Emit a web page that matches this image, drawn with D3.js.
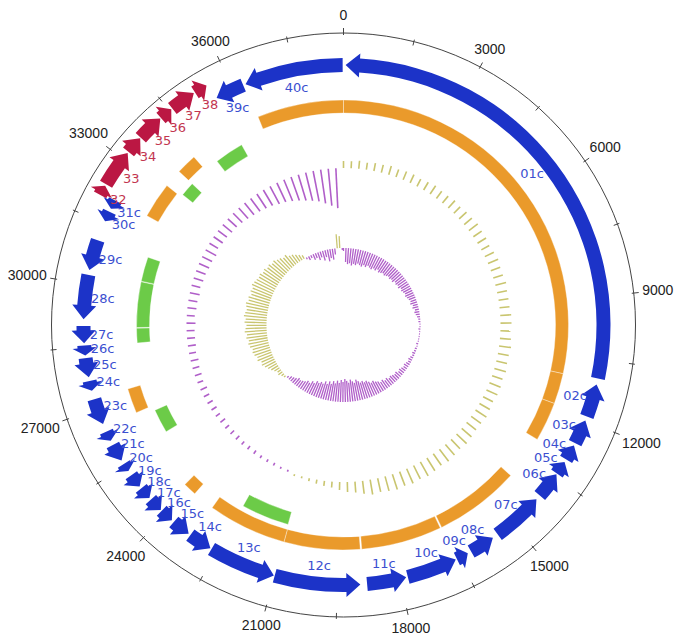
<!DOCTYPE html>
<html><head><meta charset="utf-8">
<script src="https://cdn.jsdelivr.net/npm/d3@7"></script>
<style>html,body{margin:0;padding:0;background:#fff}</style>
</head><body>
<svg id="chart" width="679" height="642"></svg>
<script>
// ---------------- DATA ----------------
const genomeLength = 38700;
const majorTicks = [0,3000,6000,9000,12000,15000,18000,21000,24000,27000,30000,33000,36000];
const minorTicks = [1500,4500,7500,10500,13500,16500,19500,22500,25500,28500,31500,34500,37500];

const geneNames   = ["01c","02c","03c","04c","05c","06c","07c","08c","09c","10c","11c","12c","13c","14c","15c","16c","17c","18c","19c","20c","21c","22c","23c","24c","25c","26c","27c","28c","29c","30c","31c","32","33","34","35","36","37","38","39c","40c"];
const geneStarts  = [50,11100,11990,12640,13090,13440,14200,15580,16280,16600,17850,18950,21020,22660,23280,23790,24150,24540,24900,25350,25650,26180,26620,27450,27780,28300,28590,29160,30340,31550,31880,32050,32320,33200,33620,34250,34580,35200,35560,36320];
const geneEnds    = [10950,11890,12580,13020,13420,14080,15440,16190,16570,17810,18790,21000,22630,23230,23730,24120,24490,24840,25230,25550,26070,26420,27240,27690,28240,28540,29000,30220,31070,31800,32100,32280,33170,33600,34230,34550,35170,35500,36260,38680];
const geneStrands = [-1,-1,-1,-1,-1,-1,-1,-1,-1,-1,-1,-1,-1,-1,-1,-1,-1,-1,-1,-1,-1,-1,-1,-1,-1,-1,-1,-1,-1,-1,-1,1,1,1,1,1,1,1,-1,-1];

const orangeStarts = [36300,0,11020,11870,14190,16610,18890,21000,23800,26560,32150,33650];
const orangeEnds   = [38700,11020,11870,12960,16570,18850,21000,23190,24170,27250,33140,34220];

const greenStarts = [21020,25690,28490,28950,30340,33220,34650];
const greenEnds   = [22470,26410,28930,30320,31080,33650,35530];

const gcStep = 300;
const gcContent = [
  7,7,8,7,8,
  8,9,8,9,9,8,9,10,9,9,
  10,9,10,10,11,10,10,9,10,11,10,10,11,10,10,
  10,11,11,10,11,12,11,11,12,11,12,12,11,12,13,12,12,
  13,14,13,14,15,14,15,16,15,16,15,16,15,14,15,
  13,11,10,8,6,
  5,4,3,2,2,
  -2,-2,-3,-3,-3,-4,-4,-4,-5,
  -5,-5,-6,-5,-6,-6,-6,-7,-6,
  -7,-7,-8,-7,-8,-8,-8,
  -9,-8,-9,-9,-10,-9,-10,-10,-11,-11,-12,
  -10,-11,-11,-12,-12,-13,-14,
  -15,-16,-17,-18,-20,-21,-23,
  -25,-27,-29,-31,-34,-37,-40
];

const skewStep = 200;
const gcSkew = [
  -3,
  -14,-16,-15,-17,-15,-16,-14,-15,-16,-14,
  -15,-13,-14,-15,-13,-14,-12,-14,-13,-12,-13,-12,-11,-12,
  -11,-12,-10,-11,-10,-11,-9,-10,-9,-8,-9,-8,-7,
  -6,-7,-5,-6,-4,-5,-4,-3,
  -2,-2,-1,-1,-2,-1,-1,-1,-1,-1,-2,-1,-2,-2,
  -3,-2,-3,-4,-3,-4,-5,-4,
  -5,-6,-5,-7,-6,-7,-8,-7,-9,-8,-10,-9,-11,
  -12,-14,-13,-15,-17,-16,-18,-17,-19,-21,-18,-20,-22,-19,-21,-23,
  -20,-22,-19,-21,-18,-20,-17,-19,-16,-18,-15,-16,-14,-15,-12,-13,
  -10,-11,-9,-8,-7,-8,-6,-5,-4,-2,
  2,3,5,4,6,8,
  10,12,14,13,16,15,17,18,17,19,20,
  19,21,20,22,21,20,22,21,23,22,21,
  22,23,21,22,20,22,21,23,22,21,20,
  21,19,20,18,19,17,18,16,
  15,13,14,11,10,8,6,4,
  -2,-4,-3,-6,-5,-8,-6,-10,-7,-12,-9,-11,-6,
  14,12,
  -2
];

// ---------------- LAYOUT ----------------
const cx = 343.5, cy = 325;
const axisR = 292;
const revLane = 260, fwdLane = 276;
const bodyHalf = 7, headHalf = 12, headLen = 14;
const orangeR = [212, 225];
const greenR = [194, 207];
const gcBase = 157, skewBase = 77;

const C = {
  blue: "#1c33c8", red: "#bb1743",
  blueText: "#3b4fd0", redText: "#c2354f",
  orange: "#ea9a2b", green: "#6ccb48",
  purple: "#b05fc9", olive: "#c9c56f"
};

const svg = d3.select("#chart");
const g = svg.append("g").attr("transform", `translate(${cx},${cy})`);

const angle = d3.scaleLinear().domain([0, genomeLength]).range([0, 2 * Math.PI]);
const gcScale = d3.scaleLinear().domain([0, 40]).range([0, 40]);
const skewScale = d3.scaleLinear().domain([0, 23]).range([0, 23]);

const pt = (r, a) => [r * Math.sin(a), -r * Math.cos(a)];
const ca = a => a - Math.PI / 2;

// axis circle
g.append("circle").attr("r", axisR).attr("fill", "none").attr("stroke", "#444").attr("stroke-width", 1);

// ticks
g.selectAll("line.major").data(majorTicks).join("line").attr("class", "major")
  .each(function(d) {
    const a = angle(d), p0 = pt(axisR - 2, a), p1 = pt(axisR + 5, a);
    d3.select(this).attr("x1", p0[0]).attr("y1", p0[1]).attr("x2", p1[0]).attr("y2", p1[1]);
  }).attr("stroke", "#444").attr("stroke-width", 1);
g.selectAll("line.minor").data(minorTicks).join("line").attr("class", "minor")
  .each(function(d) {
    const a = angle(d), p0 = pt(axisR - 4, a), p1 = pt(axisR + 2, a);
    d3.select(this).attr("x1", p0[0]).attr("y1", p0[1]).attr("x2", p1[0]).attr("y2", p1[1]);
  }).attr("stroke", "#444").attr("stroke-width", 1);

g.selectAll("text.tick").data(majorTicks).join("text").attr("class", "tick")
  .attr("text-anchor", "middle").attr("dominant-baseline", "central")
  .attr("font-family", "Liberation Sans, Arial, sans-serif").attr("font-size", 14).attr("fill", "#222")
  .text(d => d3.format("d")(d))
  .each(function(d) {
    const a = angle(d);
    const bb = this.getBBox();
    const s = Math.abs(Math.sin(a)), c = Math.abs(Math.cos(a));
    const r = axisR + 8 + (bb.width / 2) * s + (bb.height / 2 - 2) * c + (d === 0 ? 4 : 0);
    const p = pt(r, a);
    d3.select(this).attr("x", p[0]).attr("y", p[1]);
  });

// genes
function arrowPath(s, e, strand, rc) {
  const a0 = angle(s), a1 = angle(e);
  const h = Math.min(headLen / rc, (a1 - a0) * 0.75);
  const p = d3.path();
  if (strand < 0) {
    const ab = a0 + h, tip = pt(rc, a0);
    p.moveTo(...pt(rc + bodyHalf, a1));
    p.arc(0, 0, rc + bodyHalf, ca(a1), ca(ab), true);
    p.lineTo(...pt(rc + headHalf, ab));
    p.lineTo(...tip);
    p.lineTo(...pt(rc - headHalf, ab));
    p.lineTo(...pt(rc - bodyHalf, ab));
    p.arc(0, 0, rc - bodyHalf, ca(ab), ca(a1), false);
  } else {
    const ab = a1 - h, tip = pt(rc, a1);
    p.moveTo(...pt(rc + bodyHalf, a0));
    p.arc(0, 0, rc + bodyHalf, ca(a0), ca(ab), false);
    p.lineTo(...pt(rc + headHalf, ab));
    p.lineTo(...tip);
    p.lineTo(...pt(rc - headHalf, ab));
    p.lineTo(...pt(rc - bodyHalf, ab));
    p.arc(0, 0, rc - bodyHalf, ca(ab), ca(a0), true);
  }
  p.closePath();
  return p.toString();
}

const genes = geneNames.map((n, i) => ({ name: n, start: geneStarts[i], end: geneEnds[i], strand: geneStrands[i] }));

g.selectAll("path.gene").data(genes).join("path").attr("class", "gene")
  .attr("d", d => arrowPath(d.start, d.end, d.strand, d.strand < 0 ? revLane : fwdLane))
  .attr("fill", d => d.strand < 0 ? C.blue : C.red);

g.selectAll("text.gene").data(genes).join("text").attr("class", "gene")
  .each(function(d) {
    const a = angle((d.start + d.end) / 2);
    const r = (d.strand < 0 ? revLane : fwdLane) - 18;
    const p = pt(r, a);
    d3.select(this).attr("x", p[0]).attr("y", p[1]);
  })
  .attr("text-anchor", "middle").attr("dominant-baseline", "central")
  .attr("font-family", "DejaVu Sans, sans-serif").attr("font-size", 13)
  .attr("fill", d => d.strand < 0 ? C.blueText : C.redText)
  .text(d => d.name);

// block tracks
const blockArc = d3.arc();
function blocks(starts, ends, radii, color, cls) {
  const data = starts.map((s, i) => ({ s, e: ends[i] }));
  g.selectAll("path." + cls).data(data).join("path").attr("class", cls)
    .attr("d", d => blockArc({ innerRadius: radii[0], outerRadius: radii[1], startAngle: angle(d.s), endAngle: angle(d.e) }))
    .attr("fill", color).attr("stroke", "#fff").attr("stroke-opacity", 0.45).attr("stroke-width", 0.8);
}
blocks(orangeStarts, orangeEnds, orangeR, C.orange, "orange");
blocks(greenStarts, greenEnds, greenR, C.green, "green");

// GC content / GC skew rings
function ring(values, step, base, scale, width, cls) {
  const data = values.map((v, i) => ({ pos: i * step, v }));
  g.selectAll("line." + cls).data(data).join("line").attr("class", cls)
    .each(function(d) {
      const a = angle(d.pos);
      const len = scale(Math.abs(d.v)) * Math.sign(d.v);
      const p0 = pt(base, a), p1 = pt(base + len, a);
      d3.select(this).attr("x1", p0[0]).attr("y1", p0[1]).attr("x2", p1[0]).attr("y2", p1[1]);
    })
    .attr("stroke", d => d.v > 0 ? C.olive : C.purple)
    .attr("stroke-width", width);
}
ring(gcContent, gcStep, gcBase, gcScale, 1.6, "gc");
ring(gcSkew, skewStep, skewBase, skewScale, 1.3, "skew");
</script>
</body></html>
